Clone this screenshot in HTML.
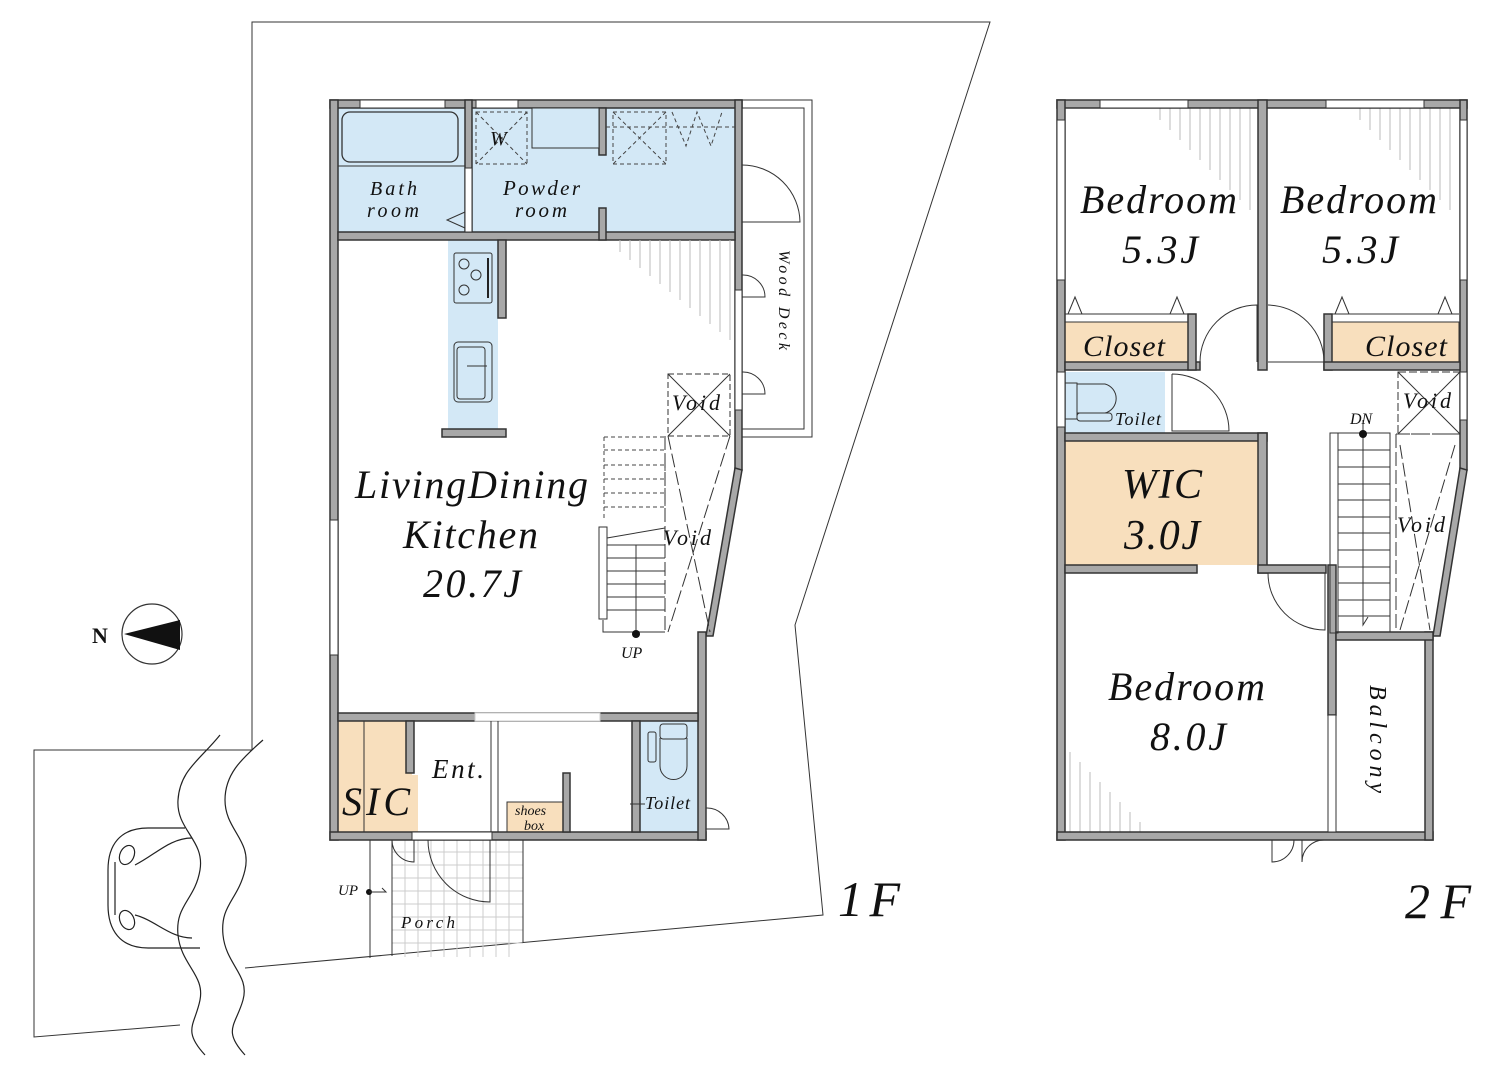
<!DOCTYPE html>
<html><head><meta charset="utf-8"><style>
html,body{margin:0;padding:0;background:#fff}
svg{display:block}
text{font-family:"Liberation Serif",serif;font-style:italic;fill:#111}
.w{fill:#a8a8a8;stroke:#333;stroke-width:1.5}
.l{fill:none;stroke:#222;stroke-width:1.2}
.t{fill:none;stroke:#333;stroke-width:1}
.d{fill:none;stroke:#444;stroke-width:1;stroke-dasharray:4 3}
.b{fill:#d3e8f6}
.o{fill:#f8dfbd}
</style></head><body>
<svg width="1501" height="1085" viewBox="0 0 1501 1085" xmlns="http://www.w3.org/2000/svg">
<polyline class="t" points="252,750 252,22 990,22 795,625 823,915 245,968"/>
<polyline class="t" points="252,750 34,750 34,1037 180,1025"/>
<path class="l" d="M220,735 C200,760 180,770 178,800 C176,830 205,840 200,870 C195,900 175,905 178,935 C181,965 205,975 200,1000 C195,1025 182,1030 205,1055"/>
<path class="l" d="M263,740 C240,760 225,775 225,800 C225,830 252,840 245,870 C238,900 220,905 223,935 C226,965 250,975 243,1000 C236,1025 222,1030 245,1055"/>
<path class="l" d="M185,828 L148,828 C120,828 108,845 108,870 L108,905 C108,930 120,948 148,948 L200,948"/>
<path class="l" d="M192,838 C170,838 155,855 135,865 M192,938 C170,938 155,920 135,915 M115,862 L115,915"/>
<ellipse class="l" cx="127" cy="855" rx="7" ry="10" transform="rotate(25 127 855)"/>
<ellipse class="l" cx="127" cy="920" rx="7" ry="10" transform="rotate(-25 127 920)"/>
<circle cx="152" cy="634" r="30" fill="#fff" stroke="#333" stroke-width="1.2"/>
<path d="M124,634 L180,620 L180,650 Z" fill="#111"/>
<text x="92" y="643" style="font-style:normal;font-weight:bold;font-size:22px">N</text>

<rect class="b" x="338" y="108" width="127" height="124"/>
<rect class="b" x="472" y="108" width="263" height="124"/>
<rect class="b" x="448" y="240" width="50" height="190"/>
<rect class="o" x="338" y="721" width="74" height="111"/>
<rect class="o" x="412" y="775" width="6" height="57"/>
<rect class="b" x="640" y="721" width="58" height="111"/>
<rect class="o" x="507" y="802" width="56" height="30" stroke="#333" stroke-width="1"/>
<rect class="t" x="742" y="100" width="70" height="337"/>
<rect class="t" x="742" y="108" width="62" height="321"/>
<g stroke="#ccc" stroke-width="1">
<path d="M392,852H523M392,865H523M392,878H523M392,891H523M392,904H523M392,917H523M392,930H523M392,943H523"/>
<path d="M405,840V957M418,840V957M431,840V957M444,840V957M457,840V957M470,840V957M483,840V957M496,840V957M509,840V957"/>
</g>
<path class="t" d="M370,840V958 M392,840V956 M523,840V943"/>
<text x="401" y="928" font-size="17" textLength="54">Porch</text>
<text x="338" y="895" font-size="15">UP</text>
<circle cx="369" cy="892" r="3" fill="#111"/><path class="t" d="M369,892H386l-4,-4"/>
<rect class="w" x="330" y="100" width="412" height="8"/>
<rect class="w" x="330" y="100" width="8" height="740"/>
<rect class="w" x="330" y="832" width="376" height="8"/>
<rect class="w" x="735" y="100" width="7" height="370"/>
<polygon class="w" points="735,468 742,470 713,636 706,636"/>
<rect class="w" x="698" y="632" width="8" height="208"/>
<rect class="w" x="465" y="100" width="7" height="132"/>
<rect class="w" x="338" y="232" width="397" height="8"/>
<rect class="w" x="599" y="108" width="7" height="47"/>
<rect class="w" x="599" y="208" width="7" height="32"/>
<rect class="w" x="498" y="240" width="8" height="78"/>
<rect class="w" x="442" y="429" width="64" height="8"/>
<rect class="w" x="338" y="713" width="360" height="8"/>
<rect class="w" x="406" y="721" width="8" height="52"/>
<rect class="w" x="632" y="721" width="8" height="111"/>
<rect class="w" x="563" y="773" width="7" height="59"/>
<rect x="360" y="100" width="85" height="8" fill="#fff" stroke="#333"/>
<rect x="476" y="100" width="42" height="8" fill="#fff" stroke="#333"/>
<rect x="330" y="520" width="8" height="135" fill="#fff" stroke="#333"/>
<rect x="735" y="290" width="7" height="120" fill="#fff" stroke="#333"/>
<rect x="465" y="168" width="7" height="64" fill="#fff" stroke="#333"/>
<rect x="475" y="713" width="125" height="8" fill="#fff" stroke="#ccc"/>
<rect x="412" y="832" width="80" height="8" fill="#fff" stroke="#333"/>
<rect x="342" y="112" width="116" height="50" rx="8" fill="none" stroke="#333" stroke-width="1.3"/>
<path class="t" d="M338,166H465 M465,212L447,220L465,228"/>
<text x="370" y="195" font-size="20" textLength="47">Bath</text>
<text x="367" y="217" font-size="20" textLength="52">room</text>
<rect class="d" x="476" y="112" width="51" height="52"/><path class="d" d="M476,112L527,164M527,112L476,164"/>
<text x="490" y="145" font-size="20">W</text>
<rect x="532" y="108" width="67" height="40" class="b" stroke="#333"/>
<rect class="d" x="613" y="112" width="53" height="52"/><path class="d" d="M613,112L666,164M666,112L613,164M606,127H735"/>
<path class="d" d="M672,112L686,146L697,112L711,146L722,112"/>
<text x="503" y="195" font-size="21" textLength="77">Powder</text>
<text x="515" y="217" font-size="21" textLength="52">room</text>
<rect x="454" y="253" width="38" height="50" rx="2" fill="none" stroke="#333"/>
<circle cx="464" cy="264" r="5" class="t"/><circle cx="476" cy="275" r="5" class="t"/><circle cx="464" cy="290" r="5" class="t"/>
<path d="M488,258V298" stroke="#222" stroke-width="2"/>
<rect x="454" y="342" width="38" height="60" rx="4" fill="none" stroke="#333"/>
<rect x="457" y="347" width="28" height="52" rx="3" fill="none" stroke="#333"/>
<path class="t" d="M467,366H487"/>
<g stroke="#bbb" stroke-width="1">
<path d="M620,240v12M630,240v20M640,240v28M650,240v36M660,240v44M670,240v52M680,240v60M690,240v68M700,240v76M710,240v84M720,240v92M730,240v100"/>
</g>
<text x="355" y="498" font-size="40" textLength="233">LivingDining</text>
<text x="403" y="548" font-size="40" textLength="135">Kitchen</text>
<text x="423" y="597" font-size="40" textLength="98">20.7J</text>
<path class="t" d="M742,165A58,58 0 0 1 800,222H742 M742,275A22,22 0 0 1 765,297H742 M742,372A22,22 0 0 1 765,394H742"/>
<text transform="translate(779,250) rotate(90)" font-size="16" textLength="100">Wood Deck</text>
<rect class="t" x="668" y="374" width="62" height="62" stroke-dasharray="6 3"/>
<path class="t" d="M668,374L730,436M730,374L668,436"/>
<text x="672" y="410" font-size="22" textLength="48">Void</text>
<g class="d"><path d="M604,437H665V520M604,450H665M604,465H665M604,479H665M604,493H665M604,507H665M604,437V520"/></g>
<rect class="t" x="599" y="527" width="8" height="92"/>
<path class="t" d="M607,545H665M607,558H665M607,571H665M607,584H665M607,597H665M607,610H665M603,620V632H665M607,538L665,528M636,632V545"/>
<circle cx="636" cy="634" r="4" fill="#111"/>
<text x="621" y="658" font-size="16">UP</text>
<path class="t" d="M665,436V632 M668,436L710,632 M730,436L668,632" stroke-dasharray="14 4"/>
<text x="663" y="545" font-size="22" textLength="48">Void</text>
<path class="t" d="M491,721V832 M498,721V832"/>
<text x="432" y="778" font-size="27" textLength="52">Ent.</text>
<text x="342" y="815" font-size="40" textLength="68">SIC</text>
<path class="t" d="M364,721V832"/>
<text x="515" y="815" font-size="14">shoes</text>
<text x="524" y="830" font-size="14">box</text>
<rect x="660" y="724" width="27" height="15" rx="3" fill="none" stroke="#333"/>
<path class="t" d="M660,738V766A13,13 0 0 0 687,766V738"/>
<rect x="648" y="732" width="8" height="30" rx="2" fill="none" stroke="#333"/>
<text x="645" y="809" font-size="18" textLength="45">Toilet</text>
<path class="t" d="M630,804H645"/>
<path class="t" d="M706,808A22,22 0 0 1 729,829H706"/>
<path class="t" d="M392,840A22,22 0 0 0 414,862V840 M428,840A62,62 0 0 0 490,902V840"/>
<text x="838" y="916" font-size="50" textLength="62">1F</text>

<rect class="o" x="1065" y="322" width="123" height="40"/>
<rect class="o" x="1332" y="322" width="127" height="40"/>
<rect class="b" x="1065" y="372" width="100" height="61"/>
<rect class="o" x="1065" y="441" width="193" height="124"/>
<g stroke="#bbb" stroke-width="1">
<path d="M1160,108v12M1170,108v22M1180,108v32M1190,108v42M1200,108v52M1210,108v62M1220,108v72M1230,108v82M1240,108v92M1250,108v102"/>
<path d="M1360,108v12M1370,108v22M1380,108v32M1390,108v42M1400,108v52M1410,108v62M1420,108v72M1430,108v82M1440,108v92M1450,108v102"/>
<path d="M1070,832v-80M1080,832v-70M1090,832v-60M1100,832v-50M1110,832v-40M1120,832v-30M1130,832v-20M1140,832v-10"/>
</g>
<rect class="w" x="1057" y="100" width="410" height="8"/>
<rect class="w" x="1057" y="100" width="8" height="740"/>
<rect class="w" x="1057" y="832" width="376" height="8"/>
<rect class="w" x="1460" y="100" width="7" height="370"/>
<polygon class="w" points="1460,468 1467,470 1440,636 1433,636"/>
<rect class="w" x="1425" y="632" width="8" height="208"/>
<rect class="w" x="1258" y="100" width="9" height="270"/>
<rect class="w" x="1065" y="362" width="135" height="8"/>
<rect class="w" x="1188" y="314" width="8" height="56"/>
<rect class="w" x="1324" y="314" width="8" height="56"/>
<rect class="w" x="1324" y="362" width="136" height="8"/>
<rect class="w" x="1065" y="433" width="202" height="8"/>
<rect class="w" x="1258" y="433" width="9" height="140"/>
<rect class="w" x="1065" y="565" width="132" height="8"/>
<rect class="w" x="1258" y="565" width="68" height="8"/>
<rect class="w" x="1328" y="565" width="8" height="150"/>
<rect class="w" x="1336" y="632" width="97" height="8"/>
<rect x="1100" y="100" width="88" height="8" fill="#fff" stroke="#333"/>
<rect x="1326" y="100" width="98" height="8" fill="#fff" stroke="#333"/>
<rect x="1057" y="372" width="8" height="55" fill="#fff" stroke="#333"/>
<rect x="1460" y="372" width="7" height="48" fill="#fff" stroke="#333"/>
<rect x="1057" y="120" width="8" height="160" fill="#fff" stroke="#333"/>
<rect x="1460" y="120" width="7" height="160" fill="#fff" stroke="#333"/>
<rect x="1328" y="715" width="8" height="117" fill="#fff" stroke="#333"/>
<path class="t" d="M1065,314H1188M1332,314H1459 M1068,314l7,-17l7,17 M1170,314l7,-17l7,17 M1335,314l7,-17l7,17 M1438,314l7,-17l7,17"/>
<rect x="1065" y="322" width="123" height="40" fill="none" stroke="#333"/>
<rect x="1332" y="322" width="127" height="40" fill="none" stroke="#333"/>
<text x="1083" y="356" font-size="30" textLength="82">Closet</text>
<text x="1365" y="356" font-size="30" textLength="82">Closet</text>
<text x="1080" y="213" font-size="40" textLength="157">Bedroom</text>
<text x="1122" y="263" font-size="40" textLength="76">5.3J</text>
<text x="1280" y="213" font-size="40" textLength="157">Bedroom</text>
<text x="1322" y="263" font-size="40" textLength="76">5.3J</text>
<path class="t" d="M1200,362A57,57 0 0 1 1257,305V362 M1268,305A57,57 0 0 1 1324,362H1268"/>
<path class="t" d="M1172,374A57,57 0 0 1 1229,431H1172V374"/>
<path class="t" d="M1268,573A57,57 0 0 0 1325,630V573"/>
<path class="t" d="M1272,840V862A22,22 0 0 0 1294,840 M1302,840V862A22,22 0 0 1 1324,840"/>
<rect x="1065" y="383" width="12" height="36" fill="none" stroke="#333"/>
<path class="t" d="M1077,384H1105A15,15 0 0 1 1105,413H1077"/>
<rect x="1077" y="413" width="35" height="8" rx="3" fill="none" stroke="#333"/>
<text x="1115" y="425" font-size="18" textLength="46">Toilet</text>
<text x="1122" y="498" font-size="42" textLength="80">WIC</text>
<text x="1124" y="549" font-size="42" textLength="76">3.0J</text>
<text x="1108" y="700" font-size="40" textLength="157">Bedroom</text>
<text x="1150" y="750" font-size="40" textLength="76">8.0J</text>
<rect class="t" x="1330" y="433" width="8" height="200"/>
<path class="t" d="M1338,433H1390V632 M1338,450H1390M1338,467H1390M1338,484H1390M1338,500H1390M1338,517H1390M1338,533H1390M1338,550H1390M1338,567H1390M1338,583H1390M1338,600H1390M1338,616H1390 M1363,420V625l5,-8"/>
<circle cx="1363" cy="434" r="4" fill="#111"/>
<text x="1350" y="424" font-size="16">DN</text>
<rect class="t" x="1398" y="372" width="62" height="62" stroke-dasharray="8 3"/>
<path class="t" d="M1398,372L1460,434M1460,372L1398,434"/>
<text x="1403" y="408" font-size="22" textLength="48">Void</text>
<path class="t" d="M1396,434V632 M1396,434H1460 M1400,445L1430,630 M1455,445L1400,630" stroke-dasharray="14 4"/>
<text x="1397" y="532" font-size="22" textLength="48">Void</text>
<text transform="translate(1370,685) rotate(90)" font-size="24" textLength="108">Balcony</text>
<text x="1405" y="918" font-size="50" textLength="66">2F</text>
</svg>
</body></html>
